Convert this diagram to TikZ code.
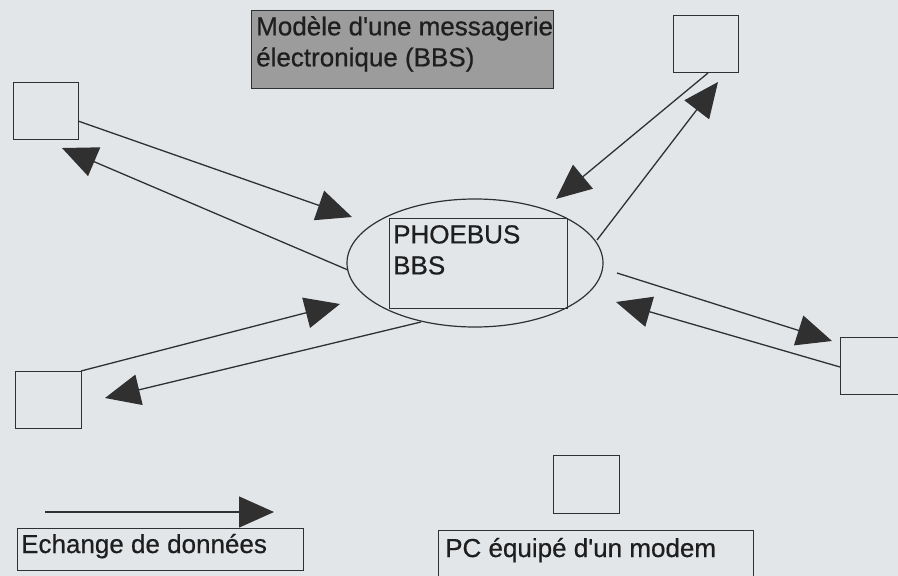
\documentclass[tikz,border=0pt]{standalone}
\usepackage{fontspec}
\newfontfamily\diagfont{Liberation Sans}[Ligatures=TeXOff, FakeBold=0.6]
\usetikzlibrary{arrows.meta,shapes.geometric}
\definecolor{bg}{HTML}{E2E6E9}
\definecolor{ink}{HTML}{303030}
\definecolor{titlefill}{HTML}{9C9C9C}
\definecolor{txt}{HTML}{1E1E1E}
\begin{document}
\begin{tikzpicture}[x=1pt,y=-1pt,
  box/.style={draw=ink, line width=1.2pt, inner sep=0pt, anchor=north west},
  conn/.style={draw=ink, line width=1.3pt, -{Triangle[length=35pt,width=31pt]}},
  lbl/.style={inner sep=0pt, font=\diagfont\fontsize{26}{31}\selectfont, text=txt}]
\fill[bg] (0,0) rectangle (898,576);
\useasboundingbox (0,0) rectangle (898,576);
% title
\node[box, fill=titlefill, minimum width=302pt, minimum height=78pt] (title) at (251,10) {};
\node[lbl, anchor=north west, align=left] (titletext) at (256,16) {Modèle d'une messagerie\\électronique (BBS)};
% central server
\node[draw=ink, line width=1.2pt, ellipse, minimum width=256pt, minimum height=128pt, inner sep=0pt] (bbs) at (475,263) {};
\node[box, minimum width=178pt, minimum height=90pt] (inner) at (389,218) {};
\node[lbl, anchor=north west, align=left] (bbstext) at (393,225) {PHOEBUS\\BBS};
% terminals
\node[box, minimum width=65pt, minimum height=57pt] (tl) at (13,82) {};
\node[box, minimum width=65pt, minimum height=57pt] (tr) at (673,15) {};
\node[box, minimum width=66pt, minimum height=57pt] (bl) at (15,371) {};
\node[box, minimum width=66pt, minimum height=57pt] (rr) at (840,337) {};
\node[box, minimum width=66pt, minimum height=58pt] (pc) at (553,455) {};
% legend boxes
\node[box, minimum width=286pt, minimum height=42pt] (leg1) at (17,528) {};
\node[lbl, anchor=base west] (leg1text) at (21,553) {Echange de données};
\node[box, minimum width=315pt, minimum height=60pt] (leg2) at (438,530) {};
\node[lbl, anchor=base west] (leg2text) at (445,557) {PC équipé d'un modem};
% connector end points
\coordinate (tlA) at (78,121);   \coordinate (tlB) at (352,217);
\coordinate (tlC) at (348,270);  \coordinate (tlD) at (62,148);
\coordinate (trA) at (708,73);   \coordinate (trB) at (556,199);
\coordinate (trC) at (597,240);  \coordinate (trD) at (718,82);
\coordinate (rrA) at (617,273);  \coordinate (rrB) at (832,341);
\coordinate (rrC) at (840,367);  \coordinate (rrD) at (616,302);
\coordinate (blA) at (81,371);   \coordinate (blB) at (340,304);
\coordinate (blC) at (421,322);  \coordinate (blD) at (105,398);
\coordinate (legA) at (45,512);  \coordinate (legB) at (274,512);
% connectors
\draw[conn] (tlA) -- (tlB);
\draw[conn] (tlC) -- (tlD);
\draw[conn] (trA) -- (trB);
\draw[conn] (trC) -- (trD);
\draw[conn] (rrA) -- (rrB);
\draw[conn] (rrC) -- (rrD);
\draw[conn] (blA) -- (blB);
\draw[conn] (blC) -- (blD);
\draw[conn] (legA) -- (legB);
\end{tikzpicture}
\end{document}
